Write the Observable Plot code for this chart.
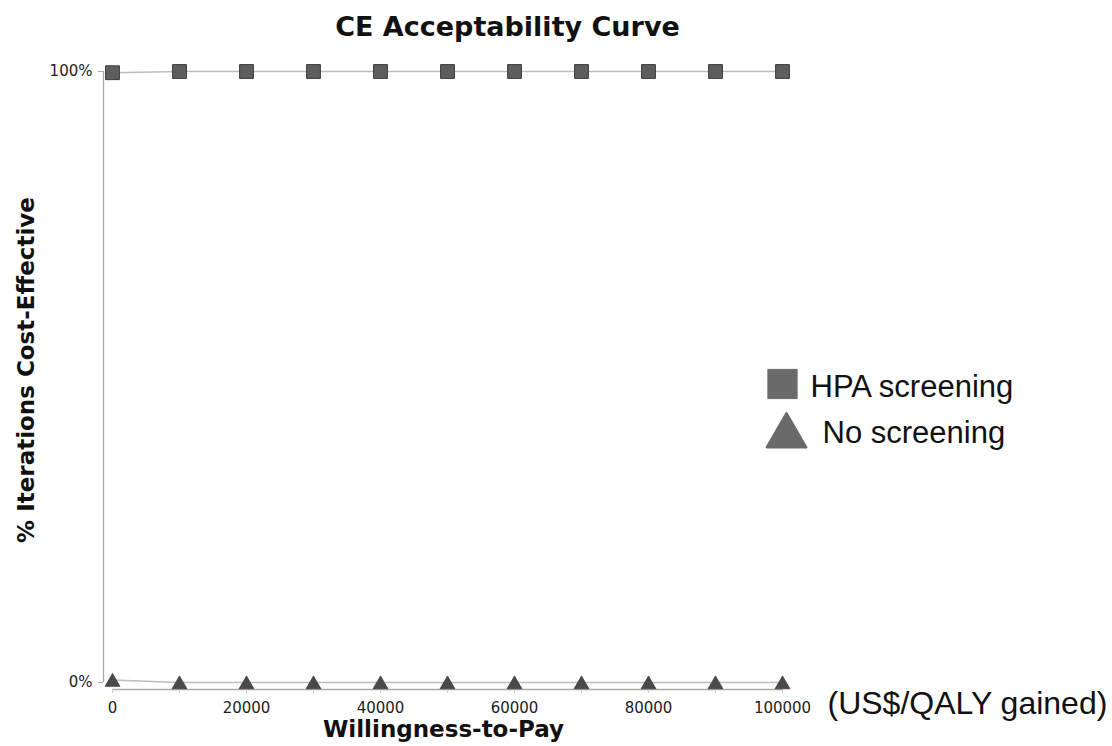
<!DOCTYPE html>
<html>
<head>
<meta charset="utf-8">
<script src="https://cdn.jsdelivr.net/npm/d3@7"></script>
<script src="https://cdn.jsdelivr.net/npm/@observablehq/plot@0.6"></script>
<style>
  html, body { margin: 0; padding: 0; background: #fff; }
  #chart svg { display: block; background: #fff; overflow: visible; }
</style>
</head>
<body>
<div id="chart"></div>
<script>
// Data
const wtp = [0, 10000, 20000, 30000, 40000, 50000, 60000, 70000, 80000, 90000, 100000];
const hpaScreening = [0.998, 1, 1, 1, 1, 1, 1, 1, 1, 1, 1];
const noScreening = [0.004, 0, 0, 0, 0, 0, 0, 0, 0, 0, 0];
const xTickValues = [0, 10000, 20000, 30000, 40000, 50000, 60000, 70000, 80000, 90000, 100000];
const xTickLabeled = [0, 20000, 40000, 60000, 80000, 100000];
const yTickValues = [0, 1];
const seriesNames = ["HPA screening", "No screening"];

const hpa = wtp.map((x, i) => ({x, y: hpaScreening[i]}));
const none = wtp.map((x, i) => ({x, y: noScreening[i]}));

const tickFont = "DejaVu Sans, Verdana, sans-serif";
const boldFont = "DejaVu Sans, Verdana, sans-serif";
const sansFont = "Liberation Sans, Arial, Helvetica, sans-serif";

const chart = Plot.plot({
  width: 1112,
  height: 746,
  marginLeft: 112,
  marginRight: 330,
  marginTop: 71,
  marginBottom: 64,
  style: {fontFamily: tickFont, fontSize: "15px", color: "#222", background: "#fff"},
  x: {domain: [0, 100000]},
  y: {domain: [0, 1]},
  marks: [
    // axis lines
    Plot.ruleX([0], {y1: 0, y2: 1, dx: -9, stroke: "#aaa", strokeWidth: 1.3}),
    Plot.ruleY([0], {x1: 0, x2: 100000, dy: 7, stroke: "#aaa", strokeWidth: 1.3}),
    Plot.axisY({ticks: yTickValues, tickFormat: d => (d * 100) + "%", tickSize: 5, tickPadding: 6, dx: -9,
      stroke: "#aaa", fill: "#222", fontSize: 15, label: null}),
    Plot.axisX({ticks: xTickValues, tickFormat: d => xTickLabeled.includes(d) ? String(d) : "", tickSize: 4, tickPadding: 9, dy: 7,
      stroke: "#ccc", fill: "#222", fontSize: 15, label: null}),
    // series lines
    Plot.line(hpa, {x: "x", y: "y", stroke: "#bdbdbd", strokeWidth: 1.6}),
    Plot.line(none, {x: "x", y: "y", stroke: "#bdbdbd", strokeWidth: 1.6}),
    // markers
    Plot.dot(hpa, {x: "x", y: "y", symbol: "square", r: 7.8, fill: "#5e5e5e", stroke: "#3c3c3c", strokeWidth: 1}),
    Plot.dot(none, {x: "x", y: "y", symbol: "triangle", r: 5.5, dy: 2, fill: "#4a4a4a", stroke: "#3c3c3c", strokeWidth: 0.8, strokeLinejoin: "round"}),
    // title
    Plot.text(["CE Acceptability Curve"], {frameAnchor: "top", dx: 60, dy: -36, lineAnchor: "bottom",
      fontFamily: boldFont, fontWeight: "bold", fontSize: 27, fill: "#111"}),
    // axis labels
    Plot.text(["Willingness-to-Pay"], {frameAnchor: "bottom", dx: -4, dy: 54, lineAnchor: "bottom",
      fontFamily: boldFont, fontWeight: "bold", fontSize: 23, fill: "#111"}),
    Plot.text(["% Iterations Cost-Effective"], {frameAnchor: "left", dx: -86, dy: -7, rotate: -90, textAnchor: "middle", lineAnchor: "middle",
      fontFamily: boldFont, fontWeight: "bold", fontSize: 23, fill: "#111"}),
    Plot.text(["(US$/QALY gained)"], {frameAnchor: "bottom-right", dx: 45, dy: 31, textAnchor: "start", lineAnchor: "bottom",
      fontFamily: sansFont, fontSize: 32, fill: "#111"}),
    // legend
    Plot.dot([seriesNames[0]], {frameAnchor: "right", dy: 7, symbol: "square", r: 16.5, fill: "#6a6a6a", stroke: "#6a6a6a", strokeWidth: 1, strokeLinejoin: "round"}),
    Plot.text([seriesNames[0]], {frameAnchor: "right", dx: 28, dy: 20, textAnchor: "start", lineAnchor: "bottom",
      fontFamily: sansFont, fontSize: 31, fill: "#111"}),
    Plot.dot([seriesNames[1]], {frameAnchor: "right", dx: 4, dy: 59, symbol: "triangle", r: 14.6, fill: "#6a6a6a", stroke: "#6a6a6a", strokeWidth: 2.5, strokeLinejoin: "round"}),
    Plot.text([seriesNames[1]], {frameAnchor: "right", dx: 40, dy: 66, textAnchor: "start", lineAnchor: "bottom",
      fontFamily: sansFont, fontSize: 31, fill: "#111"})
  ]
});
document.getElementById("chart").appendChild(chart);
</script>
</body>
</html>
